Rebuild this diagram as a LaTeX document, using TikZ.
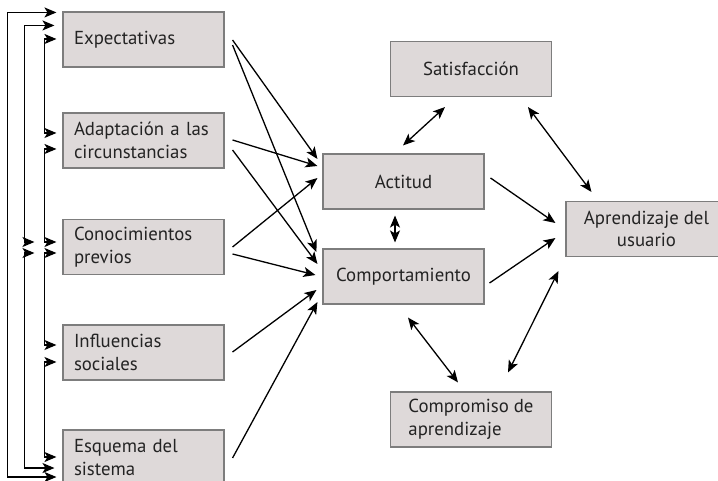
\documentclass[tikz,border=0pt]{standalone}
\usepackage{fontspec}
\setmainfont{PT Sans}
\usetikzlibrary{arrows.meta,calc}
\definecolor{boxfill}{RGB}{222,217,217}
\definecolor{boxborder}{RGB}{125,125,125}
\definecolor{txt}{RGB}{35,35,35}
\newcommand\boxfont{\fontsize{18.8}{22.5}\selectfont}
\tikzset{
  box/.style={draw=boxborder, fill=boxfill, line width=1.1pt, minimum height=55pt, inner sep=0pt, font=\boxfont, text=txt},
  lbox/.style={box, text width=139pt, inner xsep=11pt, align=left},
  cbox/.style={box, minimum width=161pt},
  tip/.tip={Stealth[length=12pt,width=10pt,inset=3pt]},
  conn/.style={line width=1.3pt, -tip},
  bconn/.style={line width=1.3pt, tip-tip},
  brk/.style={line width=1.4pt, tip-tip}
}
\begin{document}
\begin{tikzpicture}[x=1pt,y=-1pt]
\useasboundingbox (0,0) rectangle (718,481);
\fill[white] (0,0) rectangle (718,481);
\clip (0,0) rectangle (718,481);
% left column
\node[lbox] (exp) at (143.5,39.5) {Expectativas};
\node[lbox] (ada) at (143.5,140.5) {Adaptación a las\\circunstancias};
\node[lbox] (con) at (143.5,247) {Conocimientos\\previos};
\node[lbox] (inf) at (143.5,352.5) {Influencias\\sociales};
\node[lbox] (esq) at (143.5,457.5) {Esquema del\\sistema};
% middle
\node[cbox] (act) at (403.5,181.5) {Actitud};
\node[cbox] (com) at (403.5,276.5) {Comportamiento};
\node[cbox] (sat) at (471,69) {Satisfacción};
\node[cbox, align=left] (cmp) at (471,419.5) {Compromiso de\\aprendizaje};
\node[cbox, align=center] (apr) at (646.5,229) {Aprendizaje del\\usuario};
% brackets on the left
\draw[brk] ($(exp.north west)+(-6,1)$) -- ++(-49,0) |- ($(esq.west)+(-6,19.5)$);
\draw[brk] ($(exp.north west)+(-8,14)$) -- ++(-30,0) |- ($(con.west)+(-28,-5)$);
\draw[brk] ($(con.west)+(-28,6)$) -- ++(-10,0) |- ($(esq.west)+(-8,10.5)$);
\draw[brk] ($(exp.west)+(-6,-0.5)$) -- ++(-12,0) |- ($(ada.west)+(-6,-7.5)$);
\draw[brk] ($(ada.west)+(-6,8.5)$) -- ++(-12,0) |- ($(con.west)+(-6,-5)$);
\draw[brk] ($(con.west)+(-6,6)$) -- ++(-12,0) |- ($(inf.west)+(-6,-7.5)$);
\draw[brk] ($(inf.west)+(-6,9.5)$) -- ++(-12,0) |- ($(esq.west)+(-6,-0.5)$);
% left boxes to Actitud / Comportamiento
\draw[conn] ($(exp.east)+(8,0.5)$) -- ($(act.west)+(-5,-22.5)$);
\draw[conn] ($(exp.east)+(8,5.5)$) -- ($(com.west)+(-6,-24.5)$);
\draw[conn] ($(ada.east)+(8,-0.5)$) -- ($(act.west)+(-5,-15.5)$);
\draw[conn] ($(ada.east)+(8,9.5)$) -- ($(com.west)+(-5,-12.5)$);
\draw[conn] ($(con.east)+(8,0)$) -- ($(act.west)+(-5,-3.5)$);
\draw[conn] ($(con.east)+(8,7)$) -- ($(com.west)+(-7,-1.5)$);
\draw[conn] ($(inf.east)+(8,-0.5)$) -- ($(com.west)+(-6,13.5)$);
\draw[conn] ($(esq.east)+(8,0.5)$) -- ($(com.west)+(-5,25.5)$);
% right part
\draw[conn] ($(act.east)+(6,-3.5)$) -- ($(apr.west)+(-10,-6)$);
\draw[conn] ($(com.east)+(5,6.5)$) -- ($(apr.west)+(-10,9)$);
\draw[bconn] ($(sat.south)+(-26,10)$) -- ($(act.north)+(-0.5,-8)$);
\draw[bconn] ($(sat.south)+(57,10)$) -- ($(apr.north west)+(26,-9)$);
\draw[bconn] ($(act.south)+(-8.5,6)$) -- ($(com.north)+(-8.5,-6)$);
\draw[bconn] ($(com.south)+(4.5,13)$) -- ($(cmp.north)+(-13,-9)$);
\draw[bconn] ($(cmp.north)+(37,-19)$) -- ($(apr.south west)+(-7,14)$);
\end{tikzpicture}
\end{document}
